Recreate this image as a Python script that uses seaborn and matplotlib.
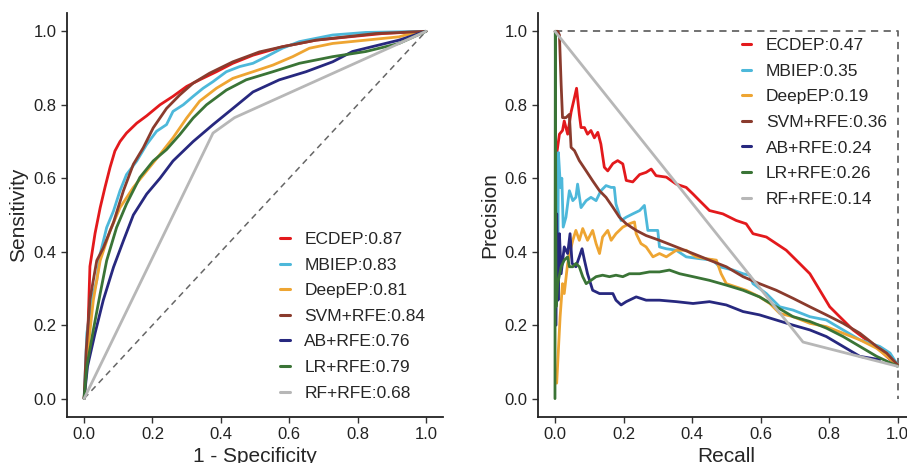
import numpy as np
import pandas as pd
import matplotlib
matplotlib.use("Agg")
import matplotlib.pyplot as plt
import seaborn as sns

# ---------------- ROC data ----------------
roc_ecdep_x = [0, 0.01, 0.017, 0.032, 0.047, 0.061, 0.076, 0.09, 0.105, 0.124, 0.154, 0.183, 0.222, 0.26, 0.30, 0.338, 0.387, 0.435, 0.494, 0.58, 0.678, 0.775, 0.873, 1.0]
roc_ecdep_y = [0, 0.15, 0.36, 0.45, 0.52, 0.575, 0.63, 0.674, 0.70, 0.723, 0.75, 0.77, 0.80, 0.823, 0.85, 0.868, 0.89, 0.913, 0.935, 0.958, 0.976, 0.985, 0.994, 1.0]

roc_mbiep_x = [0, 0.008, 0.022, 0.037, 0.047, 0.066, 0.086, 0.105, 0.124, 0.154, 0.183, 0.212, 0.241, 0.26, 0.29, 0.319, 0.348, 0.377, 0.416, 0.455, 0.494, 0.533, 0.58, 0.63, 0.727, 0.824, 1.0]
roc_mbiep_y = [0, 0.178, 0.268, 0.322, 0.394, 0.466, 0.511, 0.566, 0.61, 0.647, 0.692, 0.728, 0.746, 0.782, 0.80, 0.823, 0.845, 0.863, 0.89, 0.904, 0.913, 0.931, 0.954, 0.972, 0.99, 0.997, 1.0]

roc_deepep_x = [0, 0.01, 0.027, 0.047, 0.076, 0.105, 0.144, 0.183, 0.222, 0.26, 0.30, 0.338, 0.387, 0.435, 0.494, 0.552, 0.61, 0.659, 0.727, 0.824, 0.921, 0.94, 1.0]
roc_deepep_y = [0, 0.124, 0.268, 0.376, 0.457, 0.52, 0.575, 0.62, 0.665, 0.71, 0.764, 0.81, 0.845, 0.872, 0.89, 0.908, 0.931, 0.954, 0.967, 0.976, 0.985, 0.99, 1.0]

roc_svm_x = [0, 0.006, 0.017, 0.037, 0.056, 0.086, 0.115, 0.144, 0.173, 0.202, 0.241, 0.28, 0.319, 0.367, 0.435, 0.513, 0.58, 0.678, 0.853, 1.0]
roc_svm_y = [0, 0.13, 0.27, 0.376, 0.41, 0.48, 0.566, 0.638, 0.683, 0.737, 0.79, 0.827, 0.859, 0.886, 0.917, 0.944, 0.958, 0.976, 0.994, 1.0]

roc_ab_x = [0, 0.01, 0.032, 0.056, 0.086, 0.115, 0.144, 0.183, 0.222, 0.26, 0.319, 0.377, 0.435, 0.494, 0.571, 0.649, 0.727, 0.785, 0.824, 0.921, 1.0]
roc_ab_y = [0, 0.088, 0.178, 0.268, 0.358, 0.43, 0.50, 0.557, 0.60, 0.647, 0.70, 0.746, 0.79, 0.835, 0.868, 0.89, 0.917, 0.945, 0.954, 0.976, 1.0]

roc_lr_x = [0, 0.008, 0.027, 0.047, 0.066, 0.095, 0.124, 0.163, 0.202, 0.241, 0.28, 0.319, 0.358, 0.416, 0.474, 0.552, 0.63, 0.727, 0.824, 0.921, 1.0]
roc_lr_y = [0, 0.088, 0.187, 0.286, 0.376, 0.466, 0.53, 0.602, 0.647, 0.678, 0.719, 0.764, 0.80, 0.84, 0.868, 0.89, 0.913, 0.931, 0.945, 0.967, 1.0]

roc_rf_x = [0, 0.377, 0.44, 1.0]
roc_rf_y = [0, 0.723, 0.765, 1.0]

# ---------------- PR data ----------------
pr_ecdep_x = [0.005, 0.013, 0.022, 0.027, 0.037, 0.047, 0.057, 0.063, 0.071, 0.076, 0.086, 0.095, 0.105, 0.115, 0.125, 0.134, 0.144, 0.154, 0.169, 0.183, 0.198, 0.208, 0.227, 0.247, 0.266, 0.281, 0.295, 0.325, 0.354, 0.383, 0.403, 0.422, 0.451, 0.49, 0.529, 0.558, 0.578, 0.617, 0.646, 0.675, 0.714, 0.744, 0.773, 0.802, 0.831, 0.87, 0.909, 0.939, 0.968, 0.997]
pr_ecdep_y = [0.666, 0.72, 0.73, 0.756, 0.72, 0.78, 0.82, 0.845, 0.774, 0.738, 0.738, 0.72, 0.73, 0.71, 0.725, 0.693, 0.63, 0.62, 0.64, 0.648, 0.639, 0.594, 0.59, 0.61, 0.616, 0.625, 0.607, 0.603, 0.584, 0.575, 0.557, 0.539, 0.512, 0.503, 0.485, 0.476, 0.449, 0.44, 0.422, 0.404, 0.368, 0.34, 0.295, 0.25, 0.223, 0.187, 0.16, 0.142, 0.115, 0.092]

pr_mbiep_x = [0.008, 0.01, 0.016, 0.02, 0.024, 0.032, 0.042, 0.052, 0.061, 0.066, 0.076, 0.091, 0.105, 0.12, 0.134, 0.149, 0.164, 0.173, 0.178, 0.193, 0.208, 0.227, 0.247, 0.261, 0.271, 0.286, 0.3, 0.305, 0.325, 0.354, 0.383, 0.422, 0.461, 0.48, 0.52, 0.549, 0.568, 0.578, 0.617, 0.656, 0.695, 0.744, 0.792, 0.841, 0.89, 0.948, 0.978, 1.0]
pr_mbiep_y = [0.3, 0.67, 0.575, 0.6, 0.467, 0.494, 0.566, 0.539, 0.548, 0.584, 0.52, 0.539, 0.548, 0.539, 0.566, 0.58, 0.575, 0.575, 0.53, 0.485, 0.494, 0.503, 0.512, 0.526, 0.458, 0.458, 0.458, 0.413, 0.408, 0.404, 0.386, 0.381, 0.377, 0.359, 0.35, 0.34, 0.336, 0.313, 0.286, 0.25, 0.241, 0.223, 0.214, 0.187, 0.16, 0.142, 0.124, 0.092]

pr_deepep_x = [0.005, 0.01, 0.015, 0.022, 0.027, 0.037, 0.045, 0.052, 0.061, 0.071, 0.081, 0.095, 0.11, 0.12, 0.13, 0.139, 0.154, 0.164, 0.178, 0.198, 0.217, 0.232, 0.237, 0.251, 0.266, 0.286, 0.305, 0.325, 0.354, 0.383, 0.412, 0.441, 0.471, 0.485, 0.5, 0.529, 0.558, 0.597, 0.627, 0.656, 0.695, 0.744, 0.792, 0.841, 0.89, 0.939, 1.0]
pr_deepep_y = [0.042, 0.133, 0.223, 0.313, 0.286, 0.368, 0.404, 0.431, 0.458, 0.431, 0.463, 0.431, 0.458, 0.422, 0.395, 0.44, 0.458, 0.431, 0.449, 0.467, 0.476, 0.481, 0.449, 0.422, 0.413, 0.386, 0.395, 0.386, 0.404, 0.404, 0.386, 0.381, 0.377, 0.34, 0.313, 0.304, 0.295, 0.277, 0.259, 0.232, 0.223, 0.205, 0.196, 0.178, 0.16, 0.137, 0.092]

pr_svm_x = [0, 0.008, 0.013, 0.018, 0.022, 0.032, 0.042, 0.047, 0.057, 0.071, 0.091, 0.11, 0.13, 0.149, 0.169, 0.188, 0.208, 0.237, 0.266, 0.305, 0.354, 0.403, 0.451, 0.5, 0.549, 0.597, 0.646, 0.695, 0.744, 0.792, 0.841, 0.89, 0.939, 0.968, 1.0]
pr_svm_y = [1.0, 1.0, 0.99, 0.855, 0.765, 0.765, 0.774, 0.684, 0.675, 0.648, 0.62, 0.593, 0.566, 0.548, 0.521, 0.494, 0.476, 0.458, 0.444, 0.431, 0.413, 0.395, 0.377, 0.359, 0.332, 0.313, 0.295, 0.273, 0.25, 0.228, 0.205, 0.178, 0.142, 0.124, 0.092]

pr_ab_x = [0.003, 0.005, 0.009, 0.013, 0.018, 0.027, 0.037, 0.044, 0.05, 0.061, 0.071, 0.079, 0.086, 0.095, 0.11, 0.13, 0.149, 0.169, 0.178, 0.193, 0.208, 0.237, 0.266, 0.305, 0.354, 0.403, 0.451, 0.5, 0.549, 0.597, 0.646, 0.695, 0.744, 0.792, 0.841, 0.89, 0.948]
pr_ab_y = [0.2, 0.503, 0.268, 0.449, 0.34, 0.413, 0.395, 0.449, 0.368, 0.359, 0.386, 0.408, 0.377, 0.34, 0.295, 0.286, 0.286, 0.286, 0.268, 0.255, 0.264, 0.277, 0.268, 0.268, 0.264, 0.259, 0.264, 0.255, 0.237, 0.228, 0.214, 0.2, 0.187, 0.169, 0.142, 0.115, 0.106]

pr_lr_x = [0, 0.001, 0.003, 0.008, 0.018, 0.027, 0.037, 0.042, 0.052, 0.061, 0.071, 0.081, 0.091, 0.105, 0.12, 0.139, 0.159, 0.178, 0.198, 0.217, 0.247, 0.276, 0.305, 0.334, 0.364, 0.403, 0.451, 0.5, 0.549, 0.597, 0.646, 0.695, 0.744, 0.792, 0.841, 0.89, 0.939, 1.0]
pr_lr_y = [0.0, 1.0, 0.25, 0.313, 0.359, 0.377, 0.386, 0.359, 0.359, 0.368, 0.359, 0.332, 0.313, 0.322, 0.332, 0.336, 0.332, 0.336, 0.332, 0.34, 0.34, 0.345, 0.345, 0.35, 0.34, 0.332, 0.322, 0.309, 0.295, 0.277, 0.25, 0.223, 0.21, 0.192, 0.169, 0.142, 0.115, 0.088]

pr_rf_x = [0, 0.724, 1.0]
pr_rf_y = [1.0, 0.154, 0.088]

models = ["ECDEP", "MBIEP", "DeepEP", "SVM+RFE", "AB+RFE", "LR+RFE", "RF+RFE"]
roc_auc = ["0.87", "0.83", "0.81", "0.84", "0.76", "0.79", "0.68"]
pr_auc = ["0.47", "0.35", "0.19", "0.36", "0.24", "0.26", "0.14"]
colors = ["#E3191C", "#4DB8DA", "#EEA532", "#8A3B2D", "#27287F", "#3A7436", "#B7B7B7"]

roc_series = [(roc_ecdep_x, roc_ecdep_y), (roc_mbiep_x, roc_mbiep_y), (roc_deepep_x, roc_deepep_y),
              (roc_svm_x, roc_svm_y), (roc_ab_x, roc_ab_y), (roc_lr_x, roc_lr_y), (roc_rf_x, roc_rf_y)]
pr_series = [(pr_ecdep_x, pr_ecdep_y), (pr_mbiep_x, pr_mbiep_y), (pr_deepep_x, pr_deepep_y),
             (pr_svm_x, pr_svm_y), (pr_ab_x, pr_ab_y), (pr_lr_x, pr_lr_y), (pr_rf_x, pr_rf_y)]


def long_frame(series, aucs):
    rows = []
    for m, a, (xs, ys) in zip(models, aucs, series):
        lab = f"{m}:{a}"
        for i, (xv, yv) in enumerate(zip(xs, ys)):
            rows.append({"x": xv, "y": yv, "model": lab, "order": i})
    return pd.DataFrame(rows)


sns.set_theme(style="ticks")
plt.rcParams["font.family"] = ["Liberation Sans", "DejaVu Sans"]

fig = plt.figure(figsize=(9.07, 4.63), dpi=100)
ax1 = fig.add_axes([0.0739, 0.0994, 0.4146, 0.8726])
ax2 = fig.add_axes([0.593, 0.0994, 0.4155, 0.8726])

for ax, series, aucs, xlabel, ylabel in [
    (ax1, roc_series, roc_auc, "1 - Specificity", "Sensitivity"),
    (ax2, pr_series, pr_auc, "Recall", "Precision"),
]:
    df = long_frame(series, aucs)
    labels = [f"{m}:{a}" for m, a in zip(models, aucs)]
    pal = dict(zip(labels, colors))
    if ax is ax1:
        ax.plot([0, 1], [0, 1], ls=(0, (4, 3)), color="#666666", lw=1.1, zorder=1)
    else:
        ax.plot([0, 1, 1], [1, 1, 0], ls=(0, (4, 3)), color="#666666", lw=1.3, zorder=1)
    sns.lineplot(data=df, x="x", y="y", hue="model", hue_order=labels, palette=pal,
                 sort=False, estimator=None, lw=2.0, ax=ax, legend=True)
    ax.set_xlim(-0.05, 1.05)
    ax.set_ylim(-0.05, 1.05)
    ax.set_xticks([0, 0.2, 0.4, 0.6, 0.8, 1.0])
    ax.set_yticks([0, 0.2, 0.4, 0.6, 0.8, 1.0])
    ax.set_xlabel(xlabel, fontsize=15, labelpad=3)
    ax.set_ylabel(ylabel, fontsize=15, labelpad=4)
    ax.tick_params(labelsize=12, length=4, width=1.0, color="#333333", labelcolor="#222222")
    for s in ["top", "right"]:
        ax.spines[s].set_visible(False)
    for s in ["left", "bottom"]:
        ax.spines[s].set_linewidth(1.3)
        ax.spines[s].set_color("#222222")

leg_pos = {ax1: (0.548, 0.475), ax2: (0.522, 0.955)}
for ax in (ax1, ax2):
    h, l = ax.get_legend_handles_labels()
    for hh in h:
        hh.set_linewidth(2.2)
    ax.legend(h, l, loc="upper left", bbox_to_anchor=leg_pos[ax], frameon=False,
              fontsize=12.5, handlelength=0.55, handletextpad=0.85, labelspacing=0.6,
              borderpad=0.4, borderaxespad=0)

fig.savefig("out.png", dpi=100)
